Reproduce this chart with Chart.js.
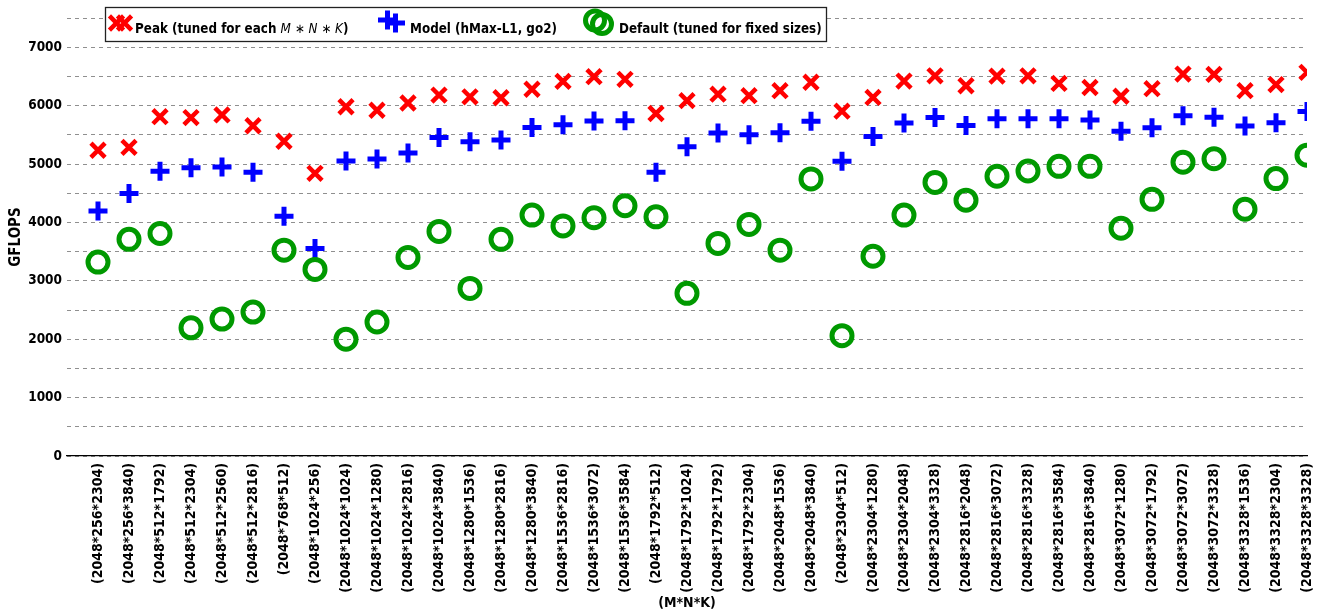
<!DOCTYPE html>
<html>
<head>
<meta charset="utf-8">
<script src="https://cdn.jsdelivr.net/npm/chart.js@4/dist/chart.umd.min.js"></script>
<style>
  html, body { margin: 0; padding: 0; background: #ffffff; }
  #wrap { width: 1325px; height: 613px; }
</style>
</head>
<body>
<div id="wrap"><canvas id="gemm" width="1325" height="613"></canvas></div>
<script>
// Problem sizes (M*N*K) on the x axis
const categories = [
  '(2048*256*2304)', '(2048*256*3840)', '(2048*512*1792)', '(2048*512*2304)',
  '(2048*512*2560)', '(2048*512*2816)', '(2048*768*512)', '(2048*1024*256)',
  '(2048*1024*1024)', '(2048*1024*1280)', '(2048*1024*2816)', '(2048*1024*3840)',
  '(2048*1280*1536)', '(2048*1280*2816)', '(2048*1280*3840)', '(2048*1536*2816)',
  '(2048*1536*3072)', '(2048*1536*3584)', '(2048*1792*512)', '(2048*1792*1024)',
  '(2048*1792*1792)', '(2048*1792*2304)', '(2048*2048*1536)', '(2048*2048*3840)',
  '(2048*2304*512)', '(2048*2304*1280)', '(2048*2304*2048)', '(2048*2304*3328)',
  '(2048*2816*2048)', '(2048*2816*3072)', '(2048*2816*3328)', '(2048*2816*3584)',
  '(2048*2816*3840)', '(2048*3072*1280)', '(2048*3072*1792)', '(2048*3072*3072)',
  '(2048*3072*3328)', '(2048*3328*1536)', '(2048*3328*2304)', '(2048*3328*3328)'
];

// GFLOPS, best configuration tuned per size
const peakGflops = [
  5235, 5285, 5810, 5795, 5840, 5655, 5390, 4840,
  5980, 5920, 6045, 6180, 6150, 6135, 6280, 6415,
  6495, 6450, 5865, 6085, 6195, 6170, 6255, 6400,
  5905, 6140, 6420, 6510, 6340, 6505, 6510, 6380,
  6310, 6160, 6290, 6540, 6535, 6255, 6360, 6570
];

// GFLOPS, configuration chosen by the model
const modelGflops = [
  4195, 4495, 4875, 4935, 4950, 4860, 4105, 3555,
  5050, 5085, 5190, 5455, 5380, 5410, 5625, 5670,
  5735, 5740, 4860, 5295, 5530, 5500, 5535, 5730,
  5045, 5470, 5700, 5795, 5660, 5775, 5775, 5775,
  5755, 5560, 5620, 5825, 5800, 5650, 5705, 5900
];

// GFLOPS, default configuration tuned for fixed sizes
const defaultGflops = [
  3320, 3710, 3810, 2195, 2345, 2465, 3525, 3195,
  2000, 2295, 3400, 3845, 2870, 3710, 4125, 3940,
  4080, 4285, 4095, 2785, 3640, 3965, 3525, 4745,
  2060, 3420, 4125, 4685, 4380, 4790, 4880, 4960,
  4960, 3900, 4395, 5030, 5090, 4225, 4750, 5150
];

// Value axis: grid every 500, labels every 1000
const yMin = 0;
const yMax = 7500;
const yGridStep = 500;
const yLabelStep = 1000;
const yLabelMax = 7000;

const FONT = "'DejaVu Sans Condensed', 'DejaVu Sans', sans-serif";
const RED = '#ff0000';
const BLUE = '#0000ff';
const GREEN = '#009900';

const toPoints = values => values.map((v, i) => ({ x: i, y: v }));

// Marker drawing shared by the legend box
function drawMarker(ctx, style, x, y, r, lw, color) {
  ctx.save();
  ctx.strokeStyle = color;
  ctx.lineWidth = lw;
  ctx.beginPath();
  if (style === 'circle') {
    ctx.arc(x, y, r, 0, Math.PI * 2);
  } else if (style === 'cross') {
    ctx.moveTo(x - r, y); ctx.lineTo(x + r, y);
    ctx.moveTo(x, y - r); ctx.lineTo(x, y + r);
  } else {
    const d = r * Math.SQRT1_2;
    ctx.moveTo(x - d, y - d); ctx.lineTo(x + d, y + d);
    ctx.moveTo(x + d, y - d); ctx.lineTo(x - d, y + d);
  }
  ctx.stroke();
  ctx.restore();
}

function drawRuns(ctx, runs, x, y) {
  for (const [text, font] of runs) {
    ctx.font = font;
    ctx.fillText(text, x, y);
    x += ctx.measureText(text).width;
  }
}

const legendBox = {
  id: 'legendBox',
  afterDraw(chart) {
    const ctx = chart.ctx;
    ctx.save();
    ctx.fillStyle = '#ffffff';
    ctx.fillRect(105, 7, 722, 35);
    ctx.strokeStyle = '#222222';
    ctx.lineWidth = 1.3;
    ctx.strokeRect(105.5, 7.5, 721, 34);

    drawMarker(ctx, 'crossRot', 116.5, 23, 10, 4.5, RED);
    drawMarker(ctx, 'crossRot', 124.5, 23, 10, 4.5, RED);
    drawMarker(ctx, 'cross', 387.5, 20, 9.5, 5, BLUE);
    drawMarker(ctx, 'cross', 395.5, 23, 9.5, 5, BLUE);
    drawMarker(ctx, 'circle', 595, 20.5, 9.5, 5, GREEN);
    drawMarker(ctx, 'circle', 602, 24, 9.5, 5, GREEN);

    ctx.fillStyle = '#000000';
    ctx.textAlign = 'left';
    ctx.textBaseline = 'alphabetic';
    const B = `bold 13.3px ${FONT}`;
    const I = `italic 13.3px ${FONT}`;
    const N = `13.3px ${FONT}`;
    drawRuns(ctx, [
      ['Peak (tuned for each ', B], ['M', I], [' \u2217 ', N], ['N', I],
      [' \u2217 ', N], ['K', I], [')', B]
    ], 135, 33);
    drawRuns(ctx, [['Model (hMax-L1, go2)', B]], 410, 33);
    drawRuns(ctx, [['Default (tuned for fixed sizes)', B]], 619, 33);
    ctx.restore();
  }
};

Chart.defaults.font.family = FONT;
Chart.defaults.font.weight = 'bold';
Chart.defaults.color = '#000000';

new Chart(document.getElementById('gemm'), {
  type: 'scatter',
  data: {
    datasets: [
      {
        label: 'Peak (tuned for each M*N*K)',
        data: toPoints(peakGflops),
        pointStyle: 'crossRot',
        radius: 10,
        borderWidth: 4.5,
        borderColor: RED,
        backgroundColor: RED,
        order: 3
      },
      {
        label: 'Model (hMax-L1, go2)',
        data: toPoints(modelGflops),
        pointStyle: 'cross',
        radius: 9.5,
        borderWidth: 5,
        borderColor: BLUE,
        backgroundColor: BLUE,
        order: 2
      },
      {
        label: 'Default (tuned for fixed sizes)',
        data: toPoints(defaultGflops),
        pointStyle: 'circle',
        radius: 10,
        borderWidth: 5,
        borderColor: GREEN,
        backgroundColor: 'rgba(0,0,0,0)',
        order: 1
      }
    ]
  },
  options: {
    responsive: false,
    animation: false,
    events: [],
    layout: { padding: { top: 18, right: 18, left: 0, bottom: 0 } },
    plugins: {
      legend: { display: false },
      tooltip: { enabled: false }
    },
    scales: {
      x: {
        type: 'linear',
        min: -1,
        max: categories.length - 1,
        afterBuildTicks: scale => {
          scale.ticks = categories.map((_, i) => ({ value: i }));
        },
        afterFit: scale => {
          scale.height = 157;
          scale.paddingLeft = 0;
          scale.paddingRight = 0;
        },
        ticks: {
          autoSkip: false,
          maxRotation: 90,
          minRotation: 90,
          padding: 7,
          color: '#000000',
          font: { size: 14, weight: 'bold' },
          callback: value => categories[value] ?? ''
        },
        grid: { display: false, drawTicks: false },
        border: { display: true, color: '#000000', width: 1.2 },
        title: {
          display: true,
          text: '(M*N*K)',
          color: '#000000',
          font: { size: 14, weight: 'bold' },
          padding: { top: 0, bottom: 1 }
        }
      },
      y: {
        min: yMin,
        max: yMax,
        afterFit: scale => { scale.width = 67; },
        ticks: {
          stepSize: yGridStep,
          padding: 5,
          color: '#000000',
          font: { size: 13.5, weight: 'bold' },
          callback: value => (value % yLabelStep === 0 && value <= yLabelMax) ? String(value) : ''
        },
        grid: { color: '#8f8f8f', lineWidth: 1, drawTicks: false },
        border: { display: false, dash: [4, 4] },
        title: {
          display: true,
          text: 'GFLOPS',
          color: '#000000',
          font: { size: 15, weight: 'bold' },
          padding: { top: 7, bottom: 0 }
        }
      }
    }
  },
  plugins: [legendBox]
});
</script>
</body>
</html>
